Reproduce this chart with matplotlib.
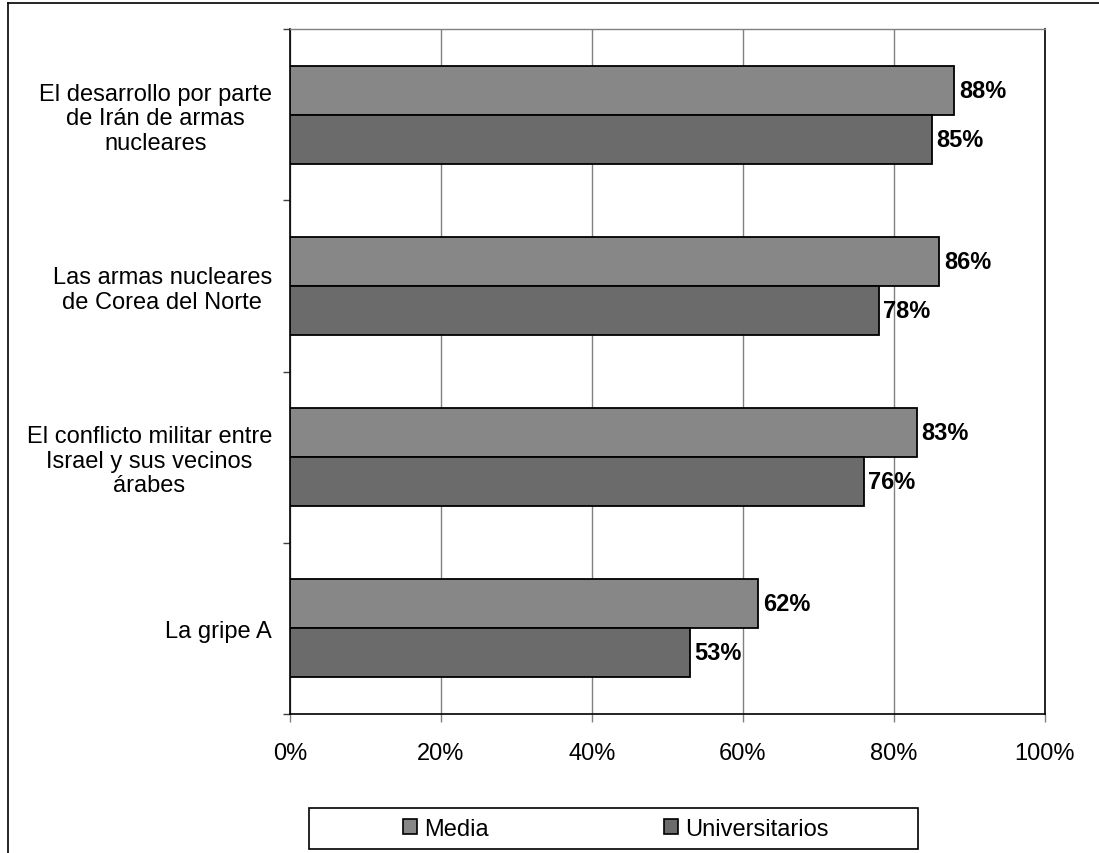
import matplotlib
matplotlib.use("Agg")
import matplotlib.pyplot as plt
from matplotlib.lines import Line2D
from matplotlib.patches import Patch, Rectangle
import numpy as np

plt.rcParams['font.family'] = ['Liberation Sans', 'DejaVu Sans']

categories = [
    "El desarrollo por parte\nde Irán de armas\nnucleares",
    "Las armas nucleares\nde Corea del Norte",
    "El conflicto militar entre\nIsrael y sus vecinos\nárabes",
    "La gripe A",
]
media = [88, 86, 83, 62]
universitarios = [85, 78, 76, 53]
series_names = ["Media", "Universitarios"]
xtick_vals = [0, 20, 40, 60, 80, 100]
xtick_labels = ["0%", "20%", "40%", "60%", "80%", "100%"]

c_media = "#878787"
c_univ = "#6b6b6b"
FS = 17

W, H = 1099, 854
fig = plt.figure(figsize=(W / 100, H / 100), dpi=100)
ax = fig.add_axes([290 / W, 1 - 715 / H, (1045 - 290) / W, (715 - 30) / H])

y = np.arange(len(categories))
h = 0.2855
b1 = ax.barh(y - h / 2, media, height=h, color=c_media, edgecolor="black", linewidth=1.3, zorder=3)
b2 = ax.barh(y + h / 2, universitarios, height=h, color=c_univ, edgecolor="black", linewidth=1.3, zorder=3)

for bars, vals in ((b1, media), (b2, universitarios)):
    for rect, v in zip(bars, vals):
        ax.text(v + 0.6, rect.get_y() + rect.get_height() / 2, f"{v}%",
                va="center", ha="left", fontsize=FS, fontweight="bold")

ax.set_xlim(0, 100)
ax.set_ylim(len(categories) - 0.5, -0.5)
ax.set_xticks(xtick_vals)
ax.set_xticklabels(xtick_labels, fontsize=FS)
ax.xaxis.grid(True, color="#808080", linewidth=1.0, zorder=0)
ax.set_axisbelow(True)

ax.set_yticks(np.arange(-0.5, len(categories), 1.0))
ax.set_yticklabels([])
ax.set_yticks(y, minor=True)
ax.set_yticklabels(categories, minor=True, fontsize=FS, ha="right",
                   multialignment="center", linespacing=1.15)
ax.tick_params(axis="y", which="minor", length=0, pad=13)
ax.tick_params(axis="y", which="major", length=5, width=1, direction="out", color="#404040")
ax.tick_params(axis="x", length=6, width=1, direction="out", color="#808080", pad=14)

for s in ("left", "bottom", "right"):
    ax.spines[s].set_color("black")
    ax.spines[s].set_linewidth(1.2)
ax.spines["top"].set_color("#808080")
ax.spines["top"].set_linewidth(1.0)

# legend box
fig.add_artist(Rectangle((309 / W, 1 - 850 / H), (918 - 309) / W, (850 - 809) / H,
                         transform=fig.transFigure, facecolor="white", edgecolor="black",
                         linewidth=1.2))
handles = [Patch(facecolor=c_media, edgecolor="black", linewidth=1.2),
           Patch(facecolor=c_univ, edgecolor="black", linewidth=1.2)]
leg = fig.legend(handles, series_names, loc="center",
                 bbox_to_anchor=(616 / W, 1 - 830 / H),
                 ncol=2, fontsize=FS, frameon=False,
                 handlelength=0.6, handleheight=0.6, handletextpad=0.3,
                 borderaxespad=0, columnspacing=7.4, borderpad=0.2)

# figure border (top and left)
fig.add_artist(Line2D([7.5 / W, 7.5 / W], [0, 1 - 4 / H], color="black", linewidth=1.2, transform=fig.transFigure))
fig.add_artist(Line2D([7.5 / W, 1], [1 - 4 / H, 1 - 4 / H], color="black", linewidth=1.2, transform=fig.transFigure))

fig.savefig("out.png", dpi=100)
